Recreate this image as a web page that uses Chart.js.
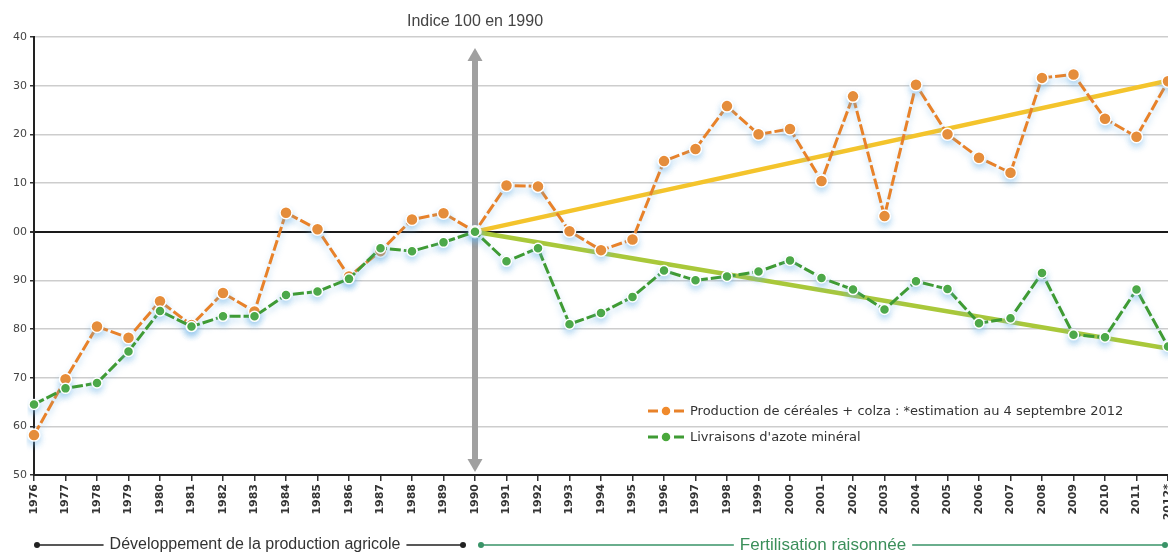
<!DOCTYPE html>
<html><head><meta charset="utf-8">
<script src="https://cdn.jsdelivr.net/npm/chart.js@4.4.1/dist/chart.umd.min.js"></script>
<style>html,body{margin:0;padding:0;background:#fff;overflow:hidden}canvas{display:block}</style>
</head><body>
<canvas id="c" width="1168" height="555"></canvas>
<script>
const years = ['1976','1977','1978','1979','1980','1981','1982','1983','1984','1985','1986','1987','1988','1989','1990','1991','1992','1993','1994','1995','1996','1997','1998','1999','2000','2001','2002','2003','2004','2005','2006','2007','2008','2009','2010','2011','2012*'];
const production = [58.2,69.7,80.5,78.2,85.7,80.8,87.4,83.6,103.9,100.5,90.8,96.0,102.5,103.8,100,109.5,109.3,100.1,96.2,98.4,114.5,117.0,125.8,120.0,121.1,110.4,127.8,103.2,130.2,120.0,115.2,112.1,131.6,132.3,123.2,119.5,130.9];
const nitrogen = [64.5,67.8,68.9,75.4,83.7,80.5,82.6,82.6,87.0,87.7,90.3,96.6,96.0,97.8,100,93.9,96.6,81.0,83.3,86.6,92.0,90.0,90.8,91.8,94.1,90.5,88.1,84.0,89.8,88.2,81.2,82.2,91.5,78.8,78.3,88.1,76.4];
const productionTrend = [['1990',100],['2012*',131]];
const nitrogenTrend = [['1990',100],['2012*',76]];
const yMin = 50, yMax = 140, yStep = 10;
const titleText = 'Indice 100 en 1990';
const legendLabels = ['Production de céréales + colza : *estimation au 4 septembre 2012', "Livraisons d'azote minéral"];
const periodLabels = ['Développement de la production agricole', 'Fertilisation raisonnée'];

const ORANGE = '#e8822a', ORANGE_PT = '#f08a2c';
const GREEN = '#3f9b34', GREEN_PT = '#4aa83c';

function dot(ctx, x, y, r, fill){
  ctx.beginPath(); ctx.arc(x, y, r, 0, Math.PI*2);
  ctx.fillStyle = fill; ctx.fill();
  ctx.lineWidth = 1.5; ctx.strokeStyle = '#fff'; ctx.stroke();
}

const decor = {
  id: 'decor',
  beforeDatasetsDraw(chart){
    const {ctx, chartArea, scales:{x}} = chart;
    const px = x.getPixelForValue(years.indexOf('1990'));
    ctx.save();
    ctx.strokeStyle = '#a0a0a0'; ctx.fillStyle = '#a0a0a0';
    ctx.lineWidth = 6;
    const top = chartArea.top + 11, bot = chartArea.bottom - 3;
    ctx.beginPath(); ctx.moveTo(px, top + 10); ctx.lineTo(px, bot - 10); ctx.stroke();
    ctx.beginPath(); ctx.moveTo(px, top); ctx.lineTo(px - 7.5, top + 13); ctx.lineTo(px + 7.5, top + 13); ctx.closePath(); ctx.fill();
    ctx.beginPath(); ctx.moveTo(px, bot); ctx.lineTo(px - 7.5, bot - 13); ctx.lineTo(px + 7.5, bot - 13); ctx.closePath(); ctx.fill();
    ctx.restore();
  },
  beforeDatasetDraw(chart, args){
    if (args.index < 2){
      const ctx = chart.ctx; ctx.save();
      ctx.shadowColor = 'rgba(110,180,230,0.45)'; ctx.shadowBlur = 6; ctx.shadowOffsetY = 4;
    }
  },
  afterDatasetDraw(chart, args){ if (args.index < 2) chart.ctx.restore(); },
  afterDraw(chart){
    const {ctx, scales:{x}} = chart;
    const px = x.getPixelForValue(years.indexOf('1990'));
    ctx.save();
    // title
    ctx.font = '16px "Liberation Sans Narrow", "Arial Narrow", sans-serif';
    ctx.fillStyle = '#444'; ctx.textAlign = 'center'; ctx.textBaseline = 'middle';
    ctx.fillText(titleText, px, 22);
    // legend
    const lx = 648, ly = [411, 437], cols = [[ORANGE, ORANGE_PT],[GREEN, GREEN_PT]];
    ctx.font = '13px "DejaVu Sans", sans-serif';
    ctx.textAlign = 'left';
    for (let i = 0; i < 2; i++){
      ctx.strokeStyle = cols[i][0]; ctx.lineWidth = 3;
      ctx.beginPath(); ctx.moveTo(lx, ly[i]); ctx.lineTo(lx + 10, ly[i]); ctx.moveTo(lx + 26, ly[i]); ctx.lineTo(lx + 36, ly[i]); ctx.stroke();
      dot(ctx, lx + 18, ly[i], 5, cols[i][1]);
      ctx.fillStyle = '#333';
      ctx.fillText(legendLabels[i], lx + 42, ly[i] + 1);
    }
    // period annotations
    const py = 545;
    ctx.textAlign = 'center';
    const segs = [
      {x0: 37, x1: px - 12, label: periodLabels[0], line: '#222', text: '#333', cx: 255, size: 16},
      {x0: px + 6, x1: 1165, label: periodLabels[1], line: '#3a9468', text: '#3b8f5a', cx: 823, size: 17}
    ];
    for (const s of segs){
      ctx.font = s.size + 'px "Liberation Sans Narrow", "Arial Narrow", sans-serif';
      const w = ctx.measureText(s.label).width;
      ctx.strokeStyle = s.line; ctx.fillStyle = s.line; ctx.lineWidth = 1.5;
      ctx.beginPath();
      ctx.moveTo(s.x0, py); ctx.lineTo(s.cx - w/2 - 6, py);
      ctx.moveTo(s.cx + w/2 + 6, py); ctx.lineTo(s.x1, py); ctx.stroke();
      ctx.beginPath(); ctx.arc(s.x0, py, 3, 0, Math.PI*2); ctx.fill();
      ctx.beginPath(); ctx.arc(s.x1, py, 3, 0, Math.PI*2); ctx.fill();
      ctx.fillStyle = s.text;
      ctx.fillText(s.label, s.cx, py);
    }
    ctx.restore();
  }
};

new Chart(document.getElementById('c'), {
  type: 'line',
  data: {
    labels: years,
    datasets: [
      {label: legendLabels[0], data: production, borderColor: ORANGE, borderWidth: 3, borderDash: [11,3],
       pointRadius: 6, pointBackgroundColor: ORANGE_PT, pointBorderColor: '#fff', pointBorderWidth: 1.5, tension: 0, order: 2},
      {label: legendLabels[1], data: nitrogen, borderColor: GREEN, borderWidth: 3, borderDash: [11,3],
       pointRadius: 5, pointBackgroundColor: GREEN_PT, pointBorderColor: '#fff', pointBorderWidth: 1.5, tension: 0, order: 1},
      {label: 'Tendance production', data: productionTrend.map(p => ({x: p[0], y: p[1]})), borderColor: '#f4c42c', borderWidth: 4.5,
       pointRadius: 0, order: 4},
      {label: 'Tendance azote', data: nitrogenTrend.map(p => ({x: p[0], y: p[1]})), borderColor: '#a9c83a', borderWidth: 4.5,
       pointRadius: 0, order: 3}
    ]
  },
  options: {
    responsive: false, animation: false,
    layout: {autoPadding: false, padding: {top: 37, right: 0, bottom: 0, left: 0}},
    plugins: {legend: {display: false}, tooltip: {enabled: false}},
    scales: {
      x: {
        type: 'category', offset: false,
        afterFit(s){ s.height = 80; s.paddingLeft = 0; s.paddingRight = 0; },
        border: {display: true, color: '#222', width: 2},
        grid: {display: true, drawOnChartArea: false, drawTicks: true, tickLength: 6, color: '#333', lineWidth: 1.5},
        ticks: {autoSkip: false, minRotation: 90, maxRotation: 90, padding: 3, color: '#333',
          font: {family: '"DejaVu Sans", sans-serif', size: 11, weight: 'bold'}}
      },
      y: {
        min: yMin, max: yMax,
        afterFit(s){ s.width = 34; },
        border: {display: true, color: '#222', width: 2},
        grid: {
          color: c => c.tick && c.tick.value === 100 ? '#1a1a1a' : '#cdcdcd',
          lineWidth: c => c.tick && c.tick.value === 100 ? 2 : 1.5,
          tickLength: 4, tickColor: '#333'
        },
        ticks: {stepSize: yStep, padding: 3, color: '#444',
          font: {family: '"DejaVu Sans", sans-serif', size: 11},
          callback: v => String(v % 100).padStart(2, '0')}
      }
    }
  },
  plugins: [decor]
});
</script>
</body></html>
